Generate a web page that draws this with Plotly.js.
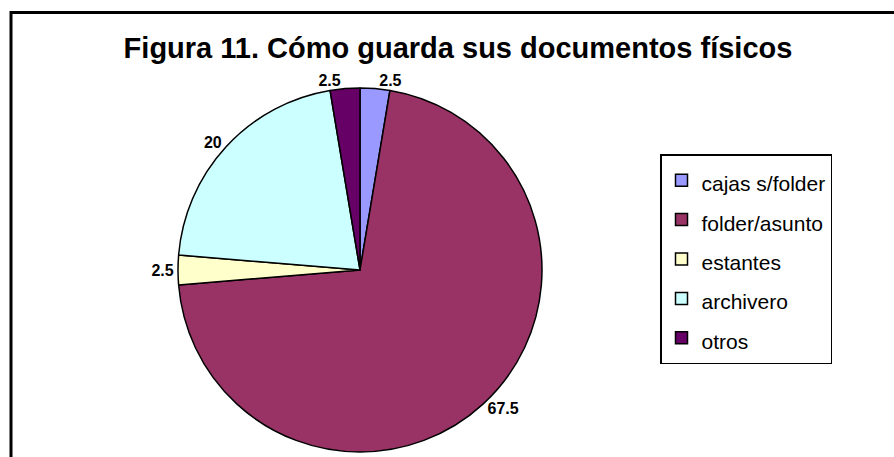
<!DOCTYPE html>
<html>
<head>
<meta charset="utf-8">
<script src="https://cdn.plot.ly/plotly-3.0.1.min.js"></script>
<style>
  html, body { margin: 0; padding: 0; background: #ffffff; }
  #chart { width: 894px; height: 457px; }
</style>
</head>
<body>
<div id="chart"></div>
<script>
const categories = ['cajas s/folder', 'folder/asunto', 'estantes', 'archivero', 'otros'];
const values = [2.5, 67.5, 2.5, 20, 2.5];
const colors = ['#9999FF', '#993366', '#FFFFCC', '#CCFFFF', '#660066'];
const titleText = 'Figura 11. Cómo guarda sus documentos físicos';

const W = 894, H = 457;
const FONT = '"Liberation Sans", Arial, sans-serif';

const legendLabels = categories.map(c => '<span style="font-size:21px">' + c + '</span>');

const trace = {
  type: 'pie',
  labels: legendLabels,
  values: values,
  sort: false,
  direction: 'clockwise',
  rotation: 0,
  marker: { colors: colors, line: { color: '#000000', width: 1.5 } },
  textinfo: 'value',
  textposition: 'outside',
  textfont: { family: FONT, size: 16, color: '#000000', weight: 'bold' },
  domain: { x: [178 / W, 542 / W], y: [5 / H, 369 / H] },
  hoverinfo: 'none'
};

const layout = {
  width: W, height: H,
  margin: { l: 0, r: 0, t: 0, b: 0 },
  paper_bgcolor: '#ffffff',
  font: { family: FONT, color: '#000000' },
  title: {
    text: titleText,
    font: { family: FONT, size: 29, color: '#000000', weight: 'bold' },
    x: 458 / W, xanchor: 'center', xref: 'container',
    y: 1 - 47.5 / H, yanchor: 'middle', yref: 'container'
  },
  showlegend: true,
  legend: {
    x: 660 / W, xanchor: 'left',
    y: 1 - 154 / H, yanchor: 'top',
    bordercolor: '#000000', borderwidth: 1.5,
    bgcolor: '#ffffff',
    font: { family: FONT, size: 28, color: '#000000' },
    traceorder: 'normal'
  },
  shapes: [{
    type: 'rect', xref: 'paper', yref: 'paper',
    x0: 11 / W, x1: 1.05, y0: -0.05, y1: 1 - 12.5 / H,
    line: { color: '#000000', width: 3 }, fillcolor: 'rgba(0,0,0,0)'
  }]
};

Plotly.newPlot('chart', [trace], layout, { staticPlot: true, displayModeBar: false });
</script>
</body>
</html>
